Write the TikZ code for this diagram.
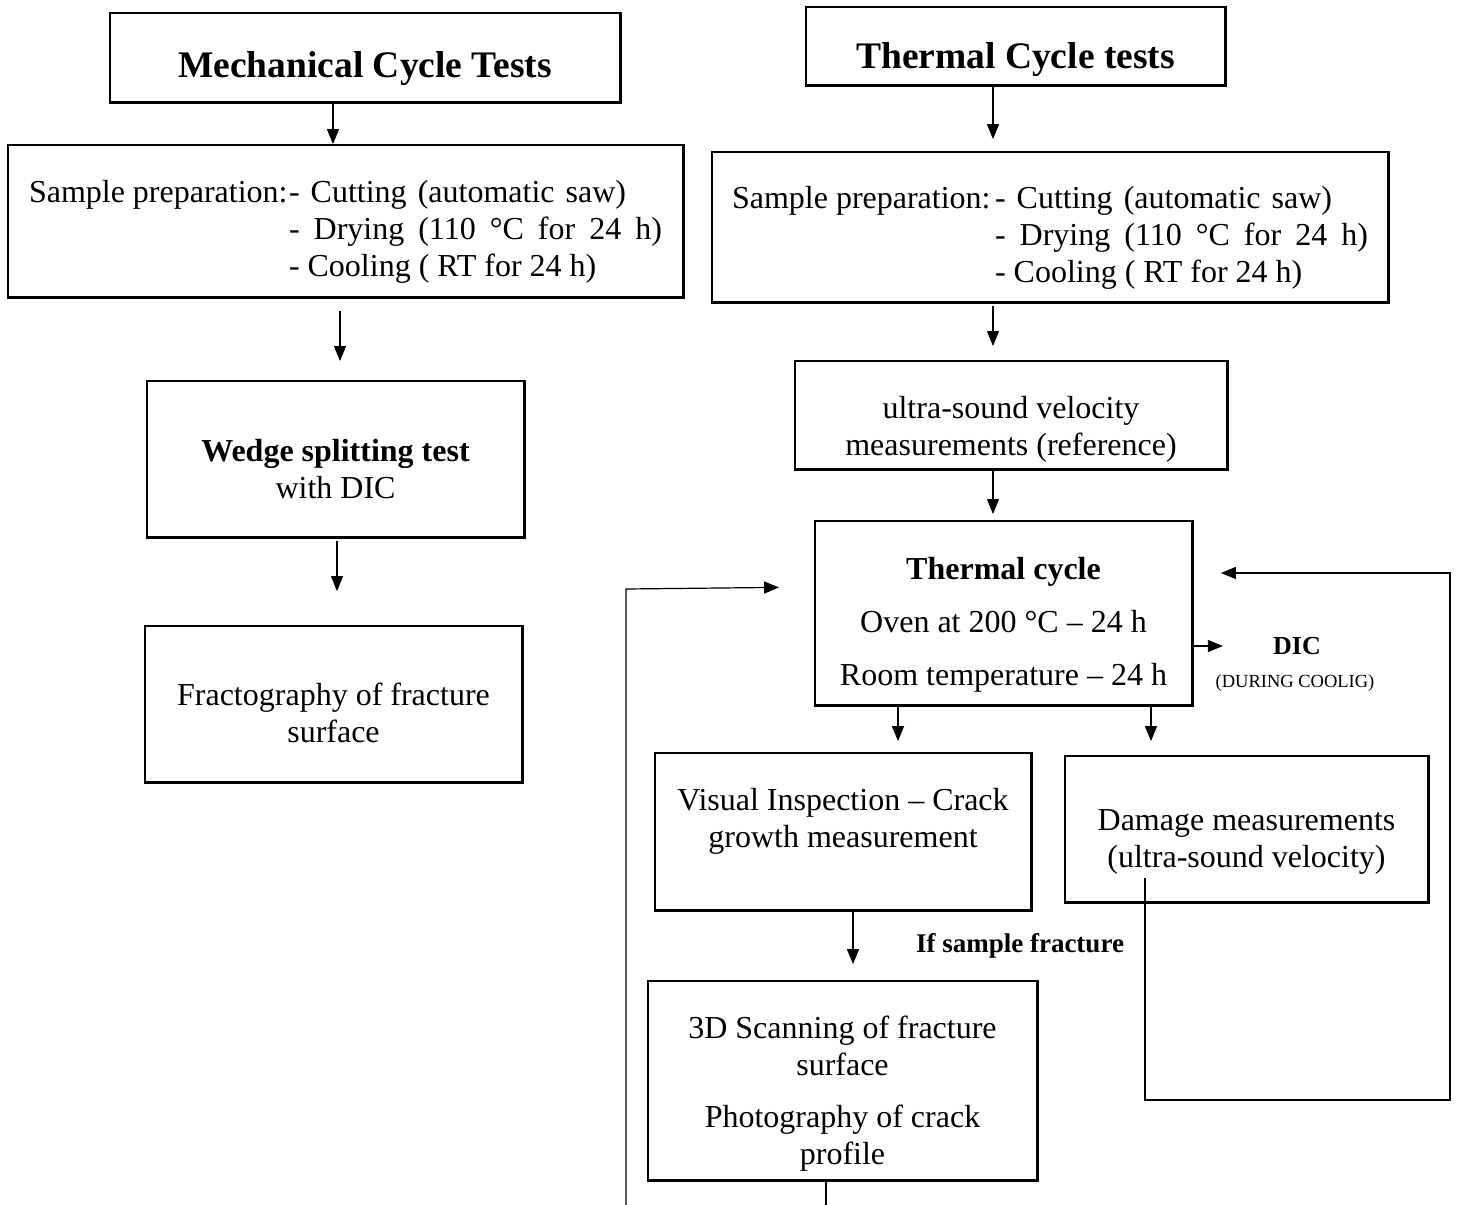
\documentclass[tikz,border=0pt]{standalone}
\usepackage{fontspec}
\setmainfont{Liberation Serif}
\usetikzlibrary{arrows.meta}
\begin{document}
\begin{tikzpicture}[x=1pt,y=-1pt,
  box/.style={draw,line width=1.8pt,inner sep=0pt},
  boxedge/.style={line width=2.8pt},
  txt/.style={inner sep=0pt,align=center,font=\fontsize{32}{37}\selectfont},
  ttxt/.style={txt,font=\fontsize{37.5}{42}\selectfont\bfseries},
  conn/.style={line width=1.2pt},
  arr/.style={conn,-{Triangle[length=15pt,width=12pt]}},
  lbl/.style={inner sep=0pt,align=center}]
\useasboundingbox (0,0) rectangle (1457,1205);
% left column
\node[box,minimum width=510pt,minimum height=89pt,
  label={[ttxt,yshift=-11.5pt]center:Mechanical Cycle Tests}] (mtitle) at (365,57.5) {};
\node[box,minimum width=675pt,minimum height=152pt,
  label={[txt,yshift=-11pt]center:{\begin{tabular}{@{}p{260pt}@{}l@{}}Sample preparation: & \makebox[337pt][s]{- Cutting (automatic saw)}\\
  & \makebox[373pt][s]{-\ Drying (110 °C for 24 h)}\\
  & - Cooling ( RT for 24 h)\end{tabular}}}] (mprep) at (345.5,221) {};
\node[box,minimum width=377pt,minimum height=156pt,
  label={[txt,yshift=-10pt]center:{\textbf{Wedge splitting test}\\with DIC}}] (wedge) at (335.5,459) {};
\node[box,minimum width=377pt,minimum height=156pt,
  label={[txt,yshift=-9pt]center:{Fractography of fracture\\surface}}] (fracto) at (333.5,704) {};
% right column
\node[box,minimum width=419pt,minimum height=78pt,
  label={[ttxt,yshift=-14pt]center:Thermal Cycle tests}] (ttitle) at (1015.5,46) {};
\node[box,minimum width=676pt,minimum height=150pt,
  label={[txt,yshift=-11pt]center:{\begin{tabular}{@{}p{263pt}@{}l@{}}Sample preparation: & \makebox[337pt][s]{- Cutting (automatic saw)}\\
  & \makebox[373pt][s]{-\ Drying (110 °C for 24 h)}\\
  & - Cooling ( RT for 24 h)\end{tabular}}}] (tprep) at (1050,227) {};
\node[box,minimum width=432pt,minimum height=108pt,
  label={[txt,yshift=-14pt]center:{ultra-sound velocity\\measurements (reference)}}] (usv) at (1011,415) {};
\node[box,minimum width=377pt,minimum height=184pt,
  label={[txt,yshift=-12pt]center:{\textbf{Thermal cycle}\\[16pt]Oven at 200 °C – 24 h\\[16pt]Room temperature – 24 h}}] (tcyc) at (1003.5,613) {};
\node[lbl,font=\fontsize{26}{30}\selectfont\bfseries] (dic) at (1297,646) {DIC};
\node[lbl,font=\fontsize{18.5}{22}\selectfont] (during) at (1295,683) {(DURING COOLIG)};
\node[box,minimum width=376pt,minimum height=157pt,
  label={[txt,yshift=10pt]center:{Visual Inspection – Crack\\growth measurement}}] (visual) at (843,831.5) {};
\node[box,minimum width=363pt,minimum height=146pt,
  label={[txt,yshift=-13pt]center:{Damage measurements\\(ultra-sound velocity)}}] (damage) at (1246.5,829) {};
\node[lbl,font=\fontsize{27}{30}\selectfont\bfseries] (iffrac) at (1020,946) {If sample fracture};
\node[box,minimum width=389pt,minimum height=199pt,
  label={[txt,yshift=-13pt]center:{3D Scanning of fracture\\surface\\[15pt]Photography of crack\\profile}}] (scan) at (842.5,1080.5) {};
% heavier lower and right edges of the boxes
\foreach \n in {mtitle,mprep,wedge,fracto,ttitle,tprep,usv,tcyc,visual,damage,scan}
  \draw[boxedge] (\n.south west) -- (\n.south east) -- (\n.north east);
% free ends
\coordinate (scanout) at (826,1205);
\coordinate (loopL) at (626,1205);
\coordinate (loopR) at (1145,878);
% connectors left
\draw[arr] ([xshift=-32pt]mtitle.south) -- ([xshift=-32pt]mtitle.south |- mprep.north);
\draw[arr,shorten <=13pt,shorten >=19pt] ([xshift=-5.5pt]mprep.south) -- ([xshift=-5.5pt]mprep.south |- wedge.north);
\draw[arr,shorten <=3pt,shorten >=34pt] ([xshift=1.5pt]wedge.south) -- ([xshift=1.5pt]wedge.south |- fracto.north);
% connectors right
\draw[arr,shorten >=12pt] ([xshift=-22.5pt]ttitle.south) -- ([xshift=-22.5pt]ttitle.south |- tprep.north);
\draw[arr,shorten <=3pt,shorten >=14pt] ([xshift=-57pt]tprep.south) -- ([xshift=-57pt]tprep.south |- usv.north);
\draw[arr,shorten <=1pt,shorten >=6pt] ([xshift=-18pt]usv.south) -- ([xshift=-18pt]usv.south |- tcyc.north);
\draw[arr] ([yshift=-33pt]tcyc.east) -- ++(30,0);
\draw[arr,shorten >=11pt] ([xshift=-105.5pt]tcyc.south) -- ([xshift=-105.5pt]tcyc.south |- visual.north);
\draw[arr,shorten >=14pt] ([xshift=147.5pt]tcyc.south) -- ([xshift=147.5pt]tcyc.south |- damage.north);
\draw[arr,shorten >=16pt] ([xshift=10pt]visual.south) -- ([xshift=10pt]visual.south |- scan.north);
\draw[conn] (scan.south -| scanout) -- (scanout);
\draw[arr,shorten >=35pt] (loopL) -- (626,589) -- (tcyc.west |- 0,587);
\draw[arr,shorten >=28pt] (loopR) -- (1145,1100) -- (1450,1100) -- (1450,573) -- (tcyc.east |- 0,573);
\end{tikzpicture}
\end{document}
